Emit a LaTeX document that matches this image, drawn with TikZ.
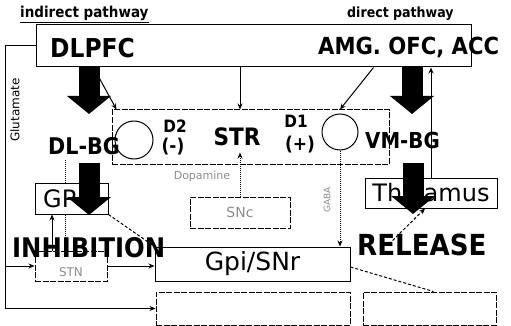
\documentclass[tikz,border=0pt]{standalone}
\usepackage{fontspec}
\setmainfont{DejaVu Sans}
\newfontfamily\cb{DejaVu Sans}[FakeStretch=0.9]
\usetikzlibrary{arrows.meta}
\newcommand\myfs[1]{\fontsize{#1}{#1}\selectfont}
\begin{document}
\begin{tikzpicture}[x=1pt,y=-1pt,
  box/.style={draw, line width=1pt, inner sep=0, rectangle},
  dbox/.style={box, dash pattern=on 6pt off 1.5pt},
  lab/.style={inner sep=0},
  arr/.style={line width=1pt, -{Stealth[length=6pt,width=5pt]}},
  big/.style={line width=21pt, -{Triangle[width=43pt,length=18pt]}},
  faint/.style={text=black!45},
  ]
\useasboundingbox (0,0) rectangle (511,326);

% boxes
\node[box, minimum width=435pt, minimum height=42pt] (top) at (253.5,46) {};
\node[dbox, minimum width=277pt, minimum height=54pt] (str) at (250.5,137) {};
\node[box, minimum width=73pt, minimum height=31pt] (gp) at (71.5,198.5) {};
\node[dbox, minimum width=100pt, minimum height=31pt, faint, font=\myfs{14}] (snc) at (240,212.5) {SNc};
\node[box, minimum width=132pt, minimum height=30pt, font=\myfs{24}] (thal) at (431,193) {Thalamus};
\node[dbox, minimum width=72pt, minimum height=30pt] (stn) at (71,266) {};
\node[box, minimum width=195pt, minimum height=34pt, font=\myfs{25}] (gpi) at (252.5,264) {Gpi/SNr};
\node[dbox, minimum width=194pt, minimum height=33pt] (bl) at (253,308.5) {};
\node[dbox, minimum width=133pt, minimum height=33pt] (br) at (429.5,308.5) {};
\node[lab, faint, font=\myfs{12}] (stnl) at (71,272) {STN};

% receptor circles
\node[circle, draw, line width=1pt, minimum size=38pt, inner sep=0] (lc) at (134,140) {};
\node[circle, draw, line width=1pt, minimum size=36pt, inner sep=0] (rc) at (340,132) {};

% helper coordinates
\coordinate (lx) at (5,0);
\coordinate (rs) at (389,244);
\coordinate (a1s) at (89,67);
\coordinate (a1e) at (89,114);
\coordinate (a2s) at (412,67);
\coordinate (a2e) at (412,114);
\coordinate (a3s) at (89,163);
\coordinate (a3e) at (89,215);
\coordinate (a4s) at (413,163);
\coordinate (a4e) at (413,214);
\coordinate (dl) at (65,160);

% glutamate line
\draw[arr] (top.west) -- (top.west -| lx) |- (bl.west);
\draw[arr] (lx |- stn.west) -- (stn.west);
% STN connections
\draw[arr] (stn.east) -- (stn.east -| gpi.west);
\draw[arr] ([xshift=-19pt]stn.north) -- ([xshift=-19pt]stn.north |- gp.south);
\draw[line width=1pt, densely dotted] ([xshift=-6pt]gp.south) -- ([xshift=-6pt]gp.south |- stn.north);
\draw[line width=1pt, dash pattern=on 3pt off 2pt] (gp.south east) -- (gpi.north west);
\draw[line width=1pt, densely dotted] (dl) -- (dl |- gp.north);
% cortex to striatum
\draw[arr] (top.south -| snc.north) -- (str.north -| snc.north);
\draw[arr] ([xshift=-160pt]top.south) -- ([xshift=5pt]str.north west);
\draw[arr] ([xshift=120pt]top.south) -- (str.north -| rc.south);
\draw[arr] (thal.north) -- (thal.north |- top.south);
% dopamine
\draw[arr, densely dotted] (snc.north) -- ([yshift=12pt]snc.north |- str.south);
% GABA
\draw[arr, densely dotted] (rc.south) -- (rc.south |- gpi.north);
% output
\draw[line width=1pt, dash pattern=on 3pt off 2pt] ([yshift=-3pt]gpi.east) -- ([xshift=4pt]br.north);
\draw[arr, dash pattern=on 3pt off 2pt] (rs) -- ([xshift=-6pt]thal.south);

% labels
\node[lab, anchor=base west, font=\cb\bfseries\myfs{15}] (ind) at (20,18) {indirect pathway};
\draw[line width=1pt] ([yshift=-1pt]ind.south west) -- ([yshift=-1pt]ind.south east);
\node[lab, anchor=base west, font=\cb\bfseries\myfs{14}] (dir) at (347,18) {direct pathway};
\node[lab, anchor=base west, font=\cb\bfseries\myfs{26}] (dlpfc) at (50,58) {DLPFC};
\node[lab, anchor=base west, font=\cb\bfseries\myfs{23.5}] (amg) at (318,55) {AMG. OFC, ACC};
\node[lab, anchor=base west, font=\cb\bfseries\myfs{23}] (dlbg) at (48,154) {DL-BG};
\node[lab, anchor=base west, font=\cb\bfseries\myfs{22}] (vmbg) at (365,148) {VM-BG};
\node[lab, anchor=base, font=\cb\bfseries\myfs{24}] (strl) at (237,146) {STR};
\node[lab, font=\cb\bfseries\myfs{17}] (d2) at (175,126) {D2};
\node[lab, font=\cb\bfseries\myfs{19}] (d2s) at (173,147) {(-)};
\node[lab, font=\cb\bfseries\myfs{17}] (d1) at (296,121) {D1};
\node[lab, font=\cb\bfseries\myfs{19}] (d1s) at (300,145) {(+)};
\node[lab, anchor=base west, font=\myfs{24}] (gpl) at (43,207) {GP};
\node[lab, anchor=base west, font=\cb\bfseries\myfs{27}] (inh) at (12,257) {INHIBITION};
\node[lab, anchor=base west, font=\cb\bfseries\myfs{29}] (rel) at (357,255) {RELEASE};
\node[lab, rotate=90, font=\myfs{12}] (glu) at (15,110) {Glutamate};
\node[lab, faint, font=\myfs{11}] (dop) at (202,176) {Dopamine};
\node[lab, faint, rotate=90, font=\myfs{9}] (gaba) at (327,200) {GABA};

% big pathway arrows
\draw[big] (a1s) -- (a1e);
\draw[big] (a2s) -- (a2e);
\draw[big] (a3s) -- (a3e);
\draw[big] (a4s) -- (a4e);
\end{tikzpicture}
\end{document}
